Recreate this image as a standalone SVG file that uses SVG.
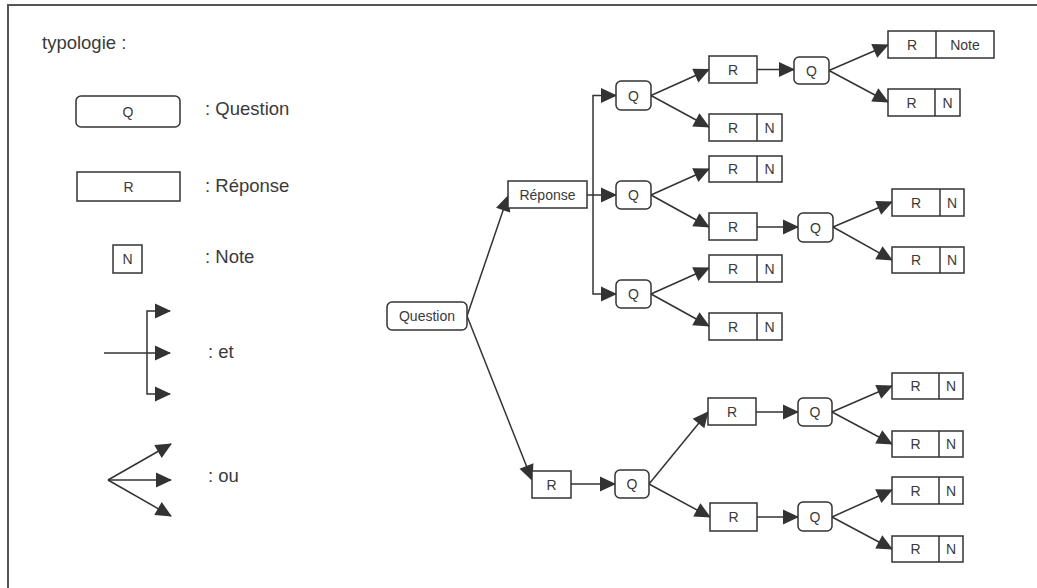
<svg xmlns="http://www.w3.org/2000/svg" width="1037" height="588" viewBox="0 0 1037 588">
<defs>
<marker id="ah" markerUnits="userSpaceOnUse" markerWidth="16" markerHeight="15" refX="15" refY="7.5" orient="auto" overflow="visible">
<path d="M0,0 L16,7.5 L0,15 z" fill="#333"/>
</marker>
<style>
.b{fill:#fff;stroke:#333;stroke-width:1.5}
.t{font-family:"Liberation Sans",Arial,sans-serif;font-size:14px;fill:#3a3a3a;text-anchor:middle}
.lg{font-family:"Liberation Sans",Arial,sans-serif;font-size:18.5px;fill:#3a3a3a}
.c{fill:none;stroke:#333;stroke-width:1.5;marker-end:url(#ah)}
.p{fill:none;stroke:#333;stroke-width:1.5}
</style>
</defs>
<rect width="1037" height="588" fill="#fff"/>
<path d="M8,590 V5 H1040" fill="none" stroke="#555" stroke-width="2"/>

<g id="legend">
<text class="lg" x="42" y="49">typologie :</text>
<g id="legend-q"><rect class="b" x="76" y="96" width="104" height="31" rx="5"/><text class="t" x="128" y="117">Q</text></g>
<text class="lg" x="205" y="115">: Question</text>
<g id="legend-r"><rect class="b" x="77" y="172" width="103" height="29"/><text class="t" x="128.5" y="191.5">R</text></g>
<text class="lg" x="205" y="191.5">: Réponse</text>
<g id="legend-n"><rect class="b" x="113" y="245" width="29" height="28"/><text class="t" x="127.5" y="264">N</text></g>
<text class="lg" x="205" y="263">: Note</text>
<g id="legend-et">
<path class="c" d="M104,353 H170"/>
<path class="c" d="M147,353 V311 H170"/>
<path class="c" d="M147,353 V394 H170"/>
</g>
<text class="lg" x="208" y="358">: et</text>
<g id="legend-ou">
<path class="c" d="M108,480 L171,444"/>
<path class="c" d="M108,480 L171,480"/>
<path class="c" d="M108,480 L171,516"/>
</g>
<text class="lg" x="208" y="482">: ou</text>
</g>

<g id="connectors">
<path class="c" d="M467,316 L508,196"/>
<path class="c" d="M467,316 L532,480"/>
<path class="c" d="M587,195 H616"/>
<path class="c" d="M593,195 V95.5 H616"/>
<path class="c" d="M593,195 V294 H616"/>
<path class="c" d="M651,95.5 L709,69.5"/>
<path class="c" d="M651,95.5 L709,127"/>
<path class="c" d="M757,69.5 H794"/>
<path class="c" d="M829,70.5 L888,45"/>
<path class="c" d="M829,70.5 L888,102"/>
<path class="c" d="M651,195 L709,169"/>
<path class="c" d="M651,195 L709,227"/>
<path class="c" d="M757,227 H798"/>
<path class="c" d="M833,227 L892,202"/>
<path class="c" d="M833,227 L892,260"/>
<path class="c" d="M651,294 L709,268"/>
<path class="c" d="M651,294 L709,326"/>
<path class="c" d="M571,484 H615"/>
<path class="c" d="M649,484 L708,412"/>
<path class="c" d="M649,484 L710,517"/>
<path class="c" d="M756,412 H798"/>
<path class="c" d="M832,412 L892,386"/>
<path class="c" d="M832,412 L892,444"/>
<path class="c" d="M757,517 H798"/>
<path class="c" d="M832,517 L892,490"/>
<path class="c" d="M832,517 L892,549"/>
</g>

<g id="question"><rect class="b" x="387" y="302" width="80" height="28" rx="5"/><text class="t" x="427" y="321">Question</text></g>
<g id="reponse"><rect class="b" x="508" y="181" width="79" height="27"/><text class="t" x="547.5" y="199.5">Réponse</text></g>

<g id="qa"><rect class="b" x="616" y="81" width="35" height="29" rx="5"/><text class="t" x="633.5" y="100.5">Q</text></g>
<g id="qb"><rect class="b" x="616" y="181" width="35" height="28" rx="5"/><text class="t" x="633.5" y="200">Q</text></g>
<g id="qc"><rect class="b" x="616" y="280" width="35" height="28" rx="5"/><text class="t" x="633.5" y="299">Q</text></g>

<g id="ra1"><rect class="b" x="709" y="56" width="48" height="27"/><text class="t" x="733" y="74.5">R</text></g>
<g id="qa2"><rect class="b" x="794" y="57" width="35" height="27" rx="5"/><text class="t" x="811.5" y="75.5">Q</text></g>
<g id="rnote"><rect class="b" x="888" y="31" width="106" height="27"/><line class="p" x1="936" y1="31" x2="936" y2="58"/><text class="t" x="912" y="49.5">R</text><text class="t" x="965" y="49.5">Note</text></g>
<g id="rna2"><rect class="b" x="888" y="89" width="72" height="27"/><line class="p" x1="935" y1="89" x2="935" y2="116"/><text class="t" x="911.5" y="107.5">R</text><text class="t" x="947.5" y="107.5">N</text></g>
<g id="rna3"><rect class="b" x="709" y="114" width="73" height="27"/><line class="p" x1="757" y1="114" x2="757" y2="141"/><text class="t" x="733" y="132.5">R</text><text class="t" x="769.5" y="132.5">N</text></g>

<g id="rnb1"><rect class="b" x="709" y="156" width="73" height="26"/><line class="p" x1="757" y1="156" x2="757" y2="182"/><text class="t" x="733" y="174">R</text><text class="t" x="769.5" y="174">N</text></g>
<g id="rb2"><rect class="b" x="709" y="213" width="48" height="27"/><text class="t" x="733" y="231.5">R</text></g>
<g id="qb2"><rect class="b" x="798" y="213" width="35" height="29" rx="5"/><text class="t" x="815.5" y="232.5">Q</text></g>
<g id="rnb3"><rect class="b" x="892" y="189" width="72" height="27"/><line class="p" x1="940" y1="189" x2="940" y2="216"/><text class="t" x="916" y="207.5">R</text><text class="t" x="952" y="207.5">N</text></g>
<g id="rnb4"><rect class="b" x="892" y="247" width="72" height="26"/><line class="p" x1="940" y1="247" x2="940" y2="273"/><text class="t" x="916" y="265">R</text><text class="t" x="952" y="265">N</text></g>

<g id="rnc1"><rect class="b" x="709" y="255" width="73" height="27"/><line class="p" x1="757" y1="255" x2="757" y2="282"/><text class="t" x="733" y="273.5">R</text><text class="t" x="769.5" y="273.5">N</text></g>
<g id="rnc2"><rect class="b" x="709" y="313" width="73" height="27"/><line class="p" x1="757" y1="313" x2="757" y2="340"/><text class="t" x="733" y="331.5">R</text><text class="t" x="769.5" y="331.5">N</text></g>

<g id="rd"><rect class="b" x="532" y="471" width="39" height="27"/><text class="t" x="551.5" y="489.5">R</text></g>
<g id="qd"><rect class="b" x="615" y="470" width="34" height="28" rx="5"/><text class="t" x="632" y="489">Q</text></g>
<g id="rd1"><rect class="b" x="708" y="398" width="48" height="27"/><text class="t" x="732" y="416.5">R</text></g>
<g id="qd1"><rect class="b" x="798" y="398" width="34" height="28" rx="5"/><text class="t" x="815" y="417">Q</text></g>
<g id="rnd1a"><rect class="b" x="892" y="373" width="71" height="26"/><line class="p" x1="939" y1="373" x2="939" y2="399"/><text class="t" x="915.5" y="391">R</text><text class="t" x="951" y="391">N</text></g>
<g id="rnd1b"><rect class="b" x="892" y="431" width="71" height="26"/><line class="p" x1="939" y1="431" x2="939" y2="457"/><text class="t" x="915.5" y="449">R</text><text class="t" x="951" y="449">N</text></g>
<g id="rd2"><rect class="b" x="710" y="503" width="47" height="28"/><text class="t" x="733.5" y="522">R</text></g>
<g id="qd2"><rect class="b" x="798" y="502" width="34" height="29" rx="5"/><text class="t" x="815" y="521.5">Q</text></g>
<g id="rnd2a"><rect class="b" x="892" y="477" width="71" height="27"/><line class="p" x1="939" y1="477" x2="939" y2="504"/><text class="t" x="915.5" y="495.5">R</text><text class="t" x="951" y="495.5">N</text></g>
<g id="rnd2b"><rect class="b" x="892" y="536" width="71" height="26"/><line class="p" x1="939" y1="536" x2="939" y2="562"/><text class="t" x="915.5" y="554">R</text><text class="t" x="951" y="554">N</text></g>
</svg>
